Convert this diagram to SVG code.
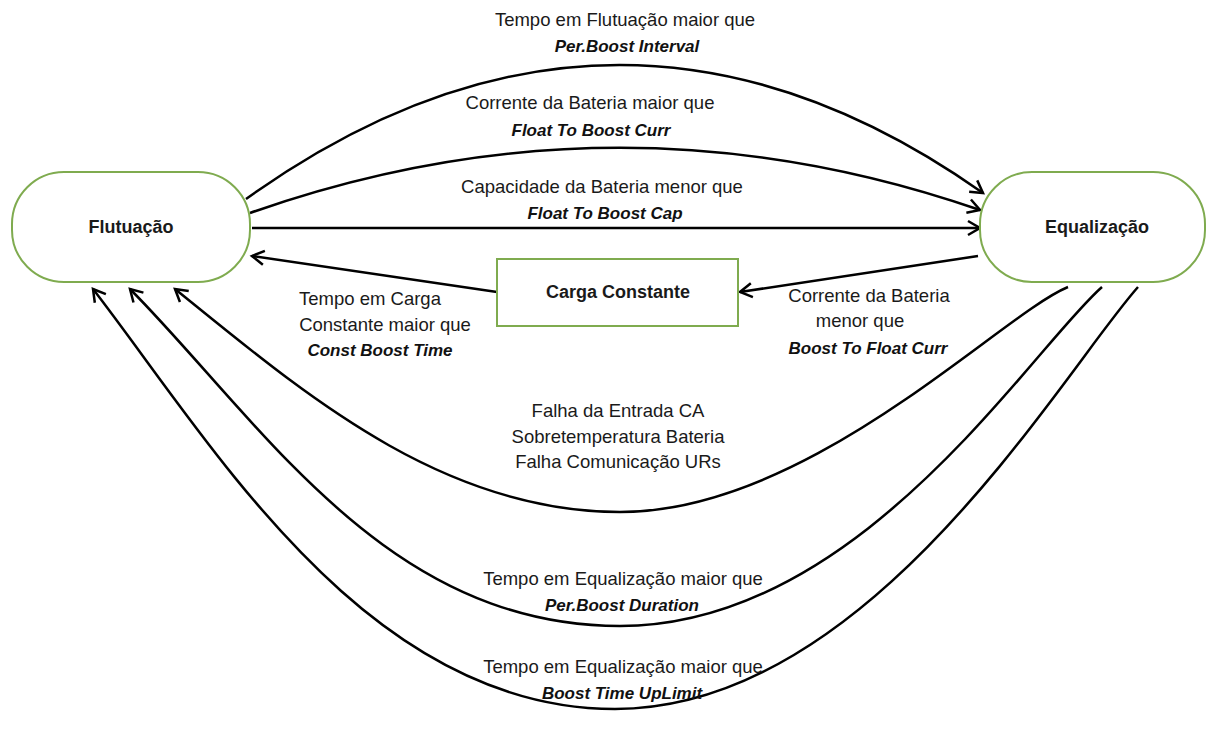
<svg xmlns="http://www.w3.org/2000/svg" width="1213" height="729" viewBox="0 0 1213 729">
<style>
.node{fill:#fff;stroke:#7fab4f;stroke-width:2}
.nl{font-family:"Liberation Sans",Arial,sans-serif;font-weight:bold;font-size:18px;fill:#1a1a1a;text-anchor:middle}
.t{font-family:"Liberation Sans",Arial,sans-serif;font-size:18.5px;fill:#1a1a1a;text-anchor:middle}
.b{font-family:"Liberation Sans",Arial,sans-serif;font-size:17px;font-weight:bold;font-style:italic;fill:#111;text-anchor:middle}
.c{fill:none;stroke:#000;stroke-width:2.5;marker-end:url(#arr)}
</style>
<defs>
<marker id="arr" markerUnits="userSpaceOnUse" markerWidth="18" markerHeight="18" refX="15" refY="9" orient="auto">
<path d="M3,2 L15,9 L3,16" fill="none" stroke="#000" stroke-width="2.5" stroke-linejoin="miter"/>
</marker>
</defs>
<rect width="1213" height="729" fill="#fff"/>
<g id="connectors">
<path class="c" d="M246,199 Q616,-66 983,193"/>
<path class="c" d="M250,213 Q616,84 980,210"/>
<path class="c" d="M252,228 L980,228"/>
<path class="c" d="M978,256 L740,292"/>
<path class="c" d="M497,292 L252,256"/>
<path class="c" d="M1068,287 C1000,315 810,512 620,512 C440,512 300,390 175,289"/>
<path class="c" d="M1102,287 C1030,350 860,626 620,626 C385,626 260,420 130,289"/>
<path class="c" d="M1138,287 C1060,375 870,709 615,709 C365,709 210,440 93,289"/>
</g>
<g id="flutuacao">
<rect class="node" x="12" y="172" width="238" height="110" rx="52" ry="52"/>
<text class="nl" x="131" y="233">Flutuação</text>
</g>
<g id="equalizacao">
<rect class="node" x="980" y="172" width="225" height="110" rx="52" ry="52"/>
<text class="nl" x="1097" y="233">Equalização</text>
</g>
<g id="carga">
<rect class="node" x="497" y="259" width="241" height="67"/>
<text class="nl" x="618" y="298">Carga Constante</text>
</g>
<g id="labels">
<text class="t" x="625" y="26">Tempo em Flutuação maior que</text>
<text class="b" x="627" y="52">Per.Boost Interval</text>
<text class="t" x="590" y="109">Corrente da Bateria maior que</text>
<text class="b" x="591" y="136">Float To Boost Curr</text>
<text class="t" x="602" y="193">Capacidade da Bateria menor que</text>
<text class="b" x="605" y="219">Float To Boost Cap</text>
<text class="t" x="370" y="305">Tempo em Carga</text>
<text class="t" x="385" y="331">Constante maior que</text>
<text class="b" x="380" y="356">Const Boost Time</text>
<text class="t" x="869" y="302">Corrente da Bateria</text>
<text class="t" x="860" y="327">menor que</text>
<text class="b" x="868" y="354">Boost To Float Curr</text>
<text class="t" x="618" y="417">Falha da Entrada CA</text>
<text class="t" x="618" y="443">Sobretemperatura Bateria</text>
<text class="t" x="618" y="468">Falha Comunicação URs</text>
<text class="t" x="623" y="585">Tempo em Equalização maior que</text>
<text class="b" x="622" y="611">Per.Boost Duration</text>
<text class="t" x="623" y="673">Tempo em Equalização maior que</text>
<text class="b" x="622" y="699">Boost Time UpLimit</text>
</g>
</svg>
